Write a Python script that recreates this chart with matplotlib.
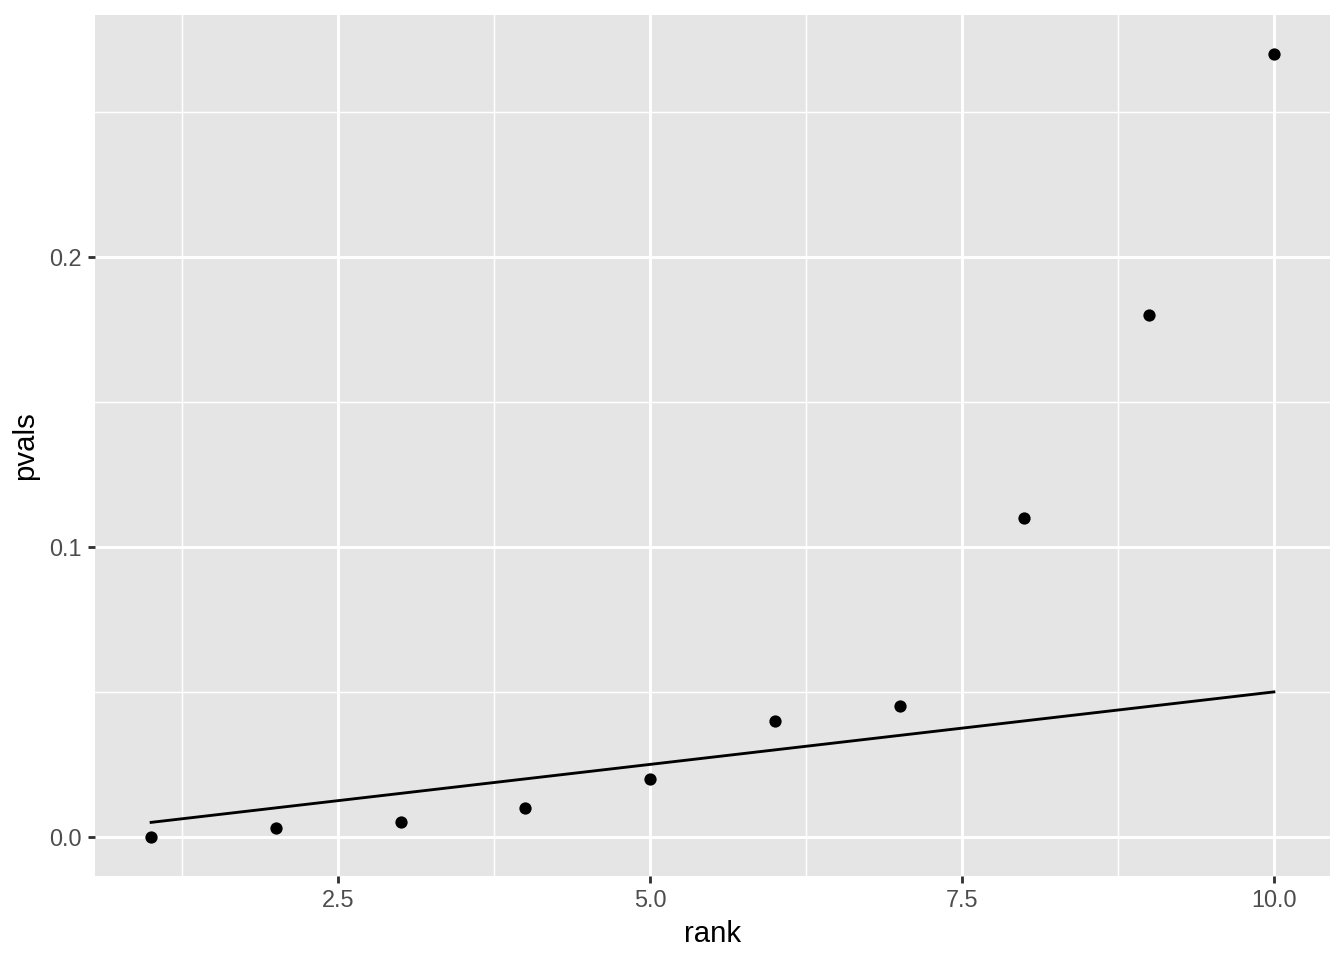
import matplotlib
matplotlib.use("Agg")
import matplotlib.pyplot as plt
import numpy as np

RANK = np.arange(1, 11)
PVALS = [0.0, 0.003, 0.005, 0.010, 0.020, 0.040, 0.045, 0.110, 0.180, 0.270]
ALPHA = 0.05
THRESHOLD = RANK / len(RANK) * ALPHA

X_MAJOR = [2.5, 5.0, 7.5, 10.0]
X_MINOR = [1.25, 3.75, 6.25, 8.75]
Y_MAJOR = [0.0, 0.1, 0.2]
Y_MINOR = [0.05, 0.15, 0.25]

plt.rcParams["font.family"] = ["Liberation Sans", "DejaVu Sans"]

fig = plt.figure(figsize=(7, 5), dpi=192)
ax = fig.add_axes([95 / 1344, 1 - 876 / 960, (1330 - 95) / 1344, (876 - 15) / 960])
ax.set_facecolor("#E5E5E5")

for v in X_MINOR:
    ax.axvline(v, color="white", linewidth=0.55, zorder=1)
for v in Y_MINOR:
    ax.axhline(v, color="white", linewidth=0.55, zorder=1)
for v in X_MAJOR:
    ax.axvline(v, color="white", linewidth=1.07, zorder=1)
for v in Y_MAJOR:
    ax.axhline(v, color="white", linewidth=1.07, zorder=1)

ax.plot(RANK, THRESHOLD, color="black", linewidth=1.07, zorder=3)
ax.plot(RANK, PVALS, "o", color="black", markersize=4.6, markeredgewidth=0, zorder=4)

xspan = RANK.max() - RANK.min()
ax.set_xlim(RANK.min() - 0.05 * xspan, RANK.max() + 0.05 * xspan)
yspan = max(PVALS) - min(PVALS)
ax.set_ylim(min(PVALS) - 0.05 * yspan, max(PVALS) + 0.05 * yspan)

ax.set_xticks(X_MAJOR, ["2.5", "5.0", "7.5", "10.0"])
ax.set_yticks(Y_MAJOR, ["0.0", "0.1", "0.2"])
ax.tick_params(colors="#333333", labelcolor="#4D4D4D", labelsize=8.8,
               length=2.75, width=1.07, pad=2.2)
for s in ax.spines.values():
    s.set_visible(False)

ax.set_xlabel("rank", fontsize=11, labelpad=3)
ax.set_ylabel("pvals", fontsize=11, labelpad=4)

fig.savefig("out.png", dpi=192, facecolor="white")
